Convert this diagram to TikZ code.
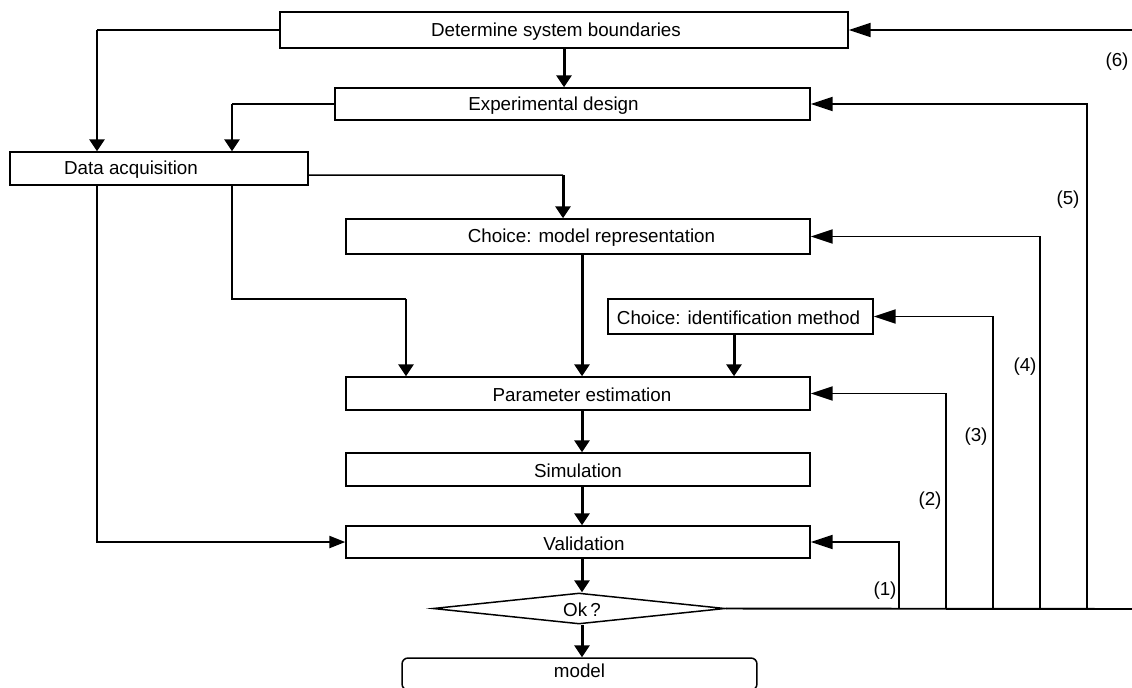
\documentclass[tikz,border=0pt]{standalone}
\usepackage{fontspec}
\setmainfont{Liberation Sans}
\usetikzlibrary{arrows.meta,shapes.geometric}

\begin{document}
\begin{tikzpicture}[x=0.02cm,y=-0.02cm,font=\fontsize{10.7}{12}\selectfont,line join=miter,
    box/.style={draw,line width=0.85pt,inner sep=0pt,minimum width=9.28cm,minimum height=0.66cm},
    ln/.style={line width=0.85pt},
    dn/.style={line width=1.7pt,-{Triangle[length=0.24cm,width=0.3cm]}},
    fb/.style={line width=1.1pt,-{Triangle[length=0.44cm,width=0.28cm]}}]
    \useasboundingbox (0,0) rectangle (1132,687);
    % blocks
    \node[box,minimum width=11.36cm,minimum height=0.72cm,label={[xshift=-0.16cm,yshift=-0.03cm]center:Determine system boundaries}] (sysb) at (564,30) {};
    \node[box,minimum width=9.5cm,minimum height=0.64cm,label={[xshift=-0.38cm,yshift=-0.03cm]center:Experimental design}] (expd) at (572.5,104) {};
    \node[box,minimum width=5.96cm,label={[xshift=-0.56cm,yshift=-0.03cm]center:Data acquisition}] (daq) at (159,168.5) {};
    \node[box,minimum height=0.7cm,label={[xshift=0.27cm,yshift=-0.03cm]center:Choice: model representation}] (rep) at (578,236.5) {};
    \node[box,minimum width=5.3cm,minimum height=0.7cm,label={[xshift=-0.04cm,yshift=-0.03cm]center:Choice: identification method}] (idm) at (740.5,316.5) {};
    \node[box,label={[xshift=0.08cm,yshift=-0.03cm]center:Parameter estimation}] (par) at (578,393.5) {};
    \node[box,label={[yshift=-0.03cm]center:Simulation}] (sim) at (578,469.5) {};
    \node[box,minimum height=0.64cm,label={[xshift=0.12cm,yshift=-0.03cm]center:Validation}] (val) at (578,542) {};
    \node[draw,diamond,line width=0.85pt,inner sep=0pt,minimum width=5.84cm,minimum height=0.62cm,label={[xshift=0.06cm,yshift=-0.03cm]center:Ok\,?}] (ok) at (579,608.5) {};
    \node[draw,line width=0.85pt,rounded corners=0.12cm,inner sep=0pt,minimum width=7.1cm,minimum height=0.64cm,label={[yshift=0.06cm]center:model}] (mdl) at (579.5,674) {};
    % bends
    \coordinate (b1) at (97,30);
    \coordinate (b2) at (232,104);
    \coordinate (b3) at (406,299);
    \coordinate (b4) at (563,175);
    \coordinate (ax) at (582,0);
    \draw[ln] (sysb.west) -- (b1);
    \draw[dn] (b1) -- (b1 |- daq.north);
    \draw[dn] (sysb.south) -- (sysb.south |- expd.north);
    \draw[ln] (expd.west) -- (b2);
    \draw[dn] (b2) -- (b2 |- daq.north);
    \draw[ln] ([yshift=-0.13cm]daq.east) -- (b4);
    \draw[dn] (b4) -- (b4 |- rep.north);
    \draw[ln] (daq.south -| b2) |- (b3);
    \draw[dn] (b3) -- (b3 |- par.north);
    \draw[line width=1.3pt,-{Triangle[length=0.32cm,width=0.24cm]}] (daq.south -| b1) |- (val.west);
    \draw[dn] (rep.south -| ax) -- (par.north -| ax);
    \draw[dn] (idm.south -| 734,0) -- (par.north -| 734,0);
    \draw[dn] (par.south -| ax) -- (sim.north -| ax);
    \draw[dn] (sim.south -| ax) -- (val.north -| ax);
    \draw[dn] (val.south -| ax) -- (ok.north -| ax);
    \draw[dn] (ok.south -| ax) -- (mdl.north -| ax);
    % feedback loops
    \coordinate (fr) at (1132,609);
    \coordinate (f6) at (1132,30);
    \draw[line width=1.1pt] (ok.east) -- (fr);
    \foreach \n/\x in {1/899,2/946,3/993,4/1040,5/1087}
        \coordinate (f\n) at (\x,609);
    \draw[fb] (f1) |- (val.east);
    \draw[fb] (f2) |- (par.east);
    \draw[fb] (f3) |- (idm.east);
    \draw[fb] (f4) |- (rep.east);
    \draw[fb] (f5) |- (expd.east);
    \draw[fb] (f6) -- (sysb.east);
    \node (l1) at (885,591) {(1)};
    \node (l2) at (930,501) {(2)};
    \node (l3) at (976,437) {(3)};
    \node (l4) at (1025,367) {(4)};
    \node (l5) at (1068,200) {(5)};
    \node (l6) at (1117,62) {(6)};
\end{tikzpicture}
\end{document}
